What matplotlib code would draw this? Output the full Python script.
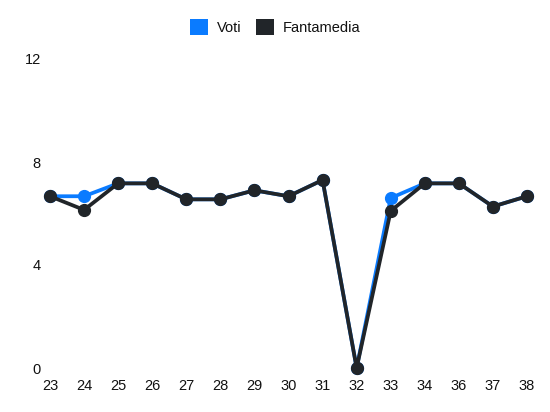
import matplotlib
matplotlib.use("Agg")
import matplotlib.pyplot as plt
from matplotlib.patches import Patch

plt.rcParams['font.family'] = ['Liberation Sans', 'DejaVu Sans']

giornate = ["23", "24", "25", "26", "27", "28", "29", "30", "31", "32", "33", "34", "36", "37", "38"]
voti = [6.67, 6.67, 7.17, 7.17, 6.55, 6.55, 6.9, 6.67, 7.3, 0, 6.6, 7.17, 7.17, 6.27, 6.67]
fantamedia = [6.67, 6.14, 7.17, 7.17, 6.55, 6.55, 6.9, 6.67, 7.3, 0, 6.1, 7.17, 7.17, 6.27, 6.67]
yticks = [0, 4, 8, 12]

blue = "#0a7bff"
dark = "#212529"

W, H = 550, 412
fig = plt.figure(figsize=(W / 100, H / 100), dpi=100)
ax = fig.add_axes([50 / W, 1 - 368 / H, (527 - 50) / W, (368 - 59) / H])

x = list(range(len(giornate)))
ax.plot(x, voti, color=blue, lw=2.7, marker='o', ms=8.5, clip_on=False, zorder=3)
ax.plot(x, fantamedia, color=dark, lw=2.7, marker='o', ms=8.5, clip_on=False, zorder=4)

ax.set_xlim(0, len(giornate) - 1)
ax.set_ylim(0, 12)
ax.set_xticks(x)
ax.set_xticklabels(giornate)
ax.set_yticks(yticks)
ax.set_yticklabels([str(v) for v in yticks])
ax.tick_params(length=0, labelsize=10.5, colors="#111111")
ax.tick_params(axis='y', pad=6.5)
ax.tick_params(axis='x', pad=8)
for s in ax.spines.values():
    s.set_visible(False)

handles = [Patch(facecolor=blue, edgecolor='none', label='Voti'),
           Patch(facecolor=dark, edgecolor='none', label='Fantamedia')]
fig.legend(handles=handles, loc='center', bbox_to_anchor=(0.5, 1 - 27 / H), ncol=2,
           frameon=False, fontsize=10.5, handlelength=1.25, handleheight=1.25,
           handletextpad=0.6, columnspacing=1.0, labelcolor="#111111")

fig.savefig("out.png", dpi=100)
